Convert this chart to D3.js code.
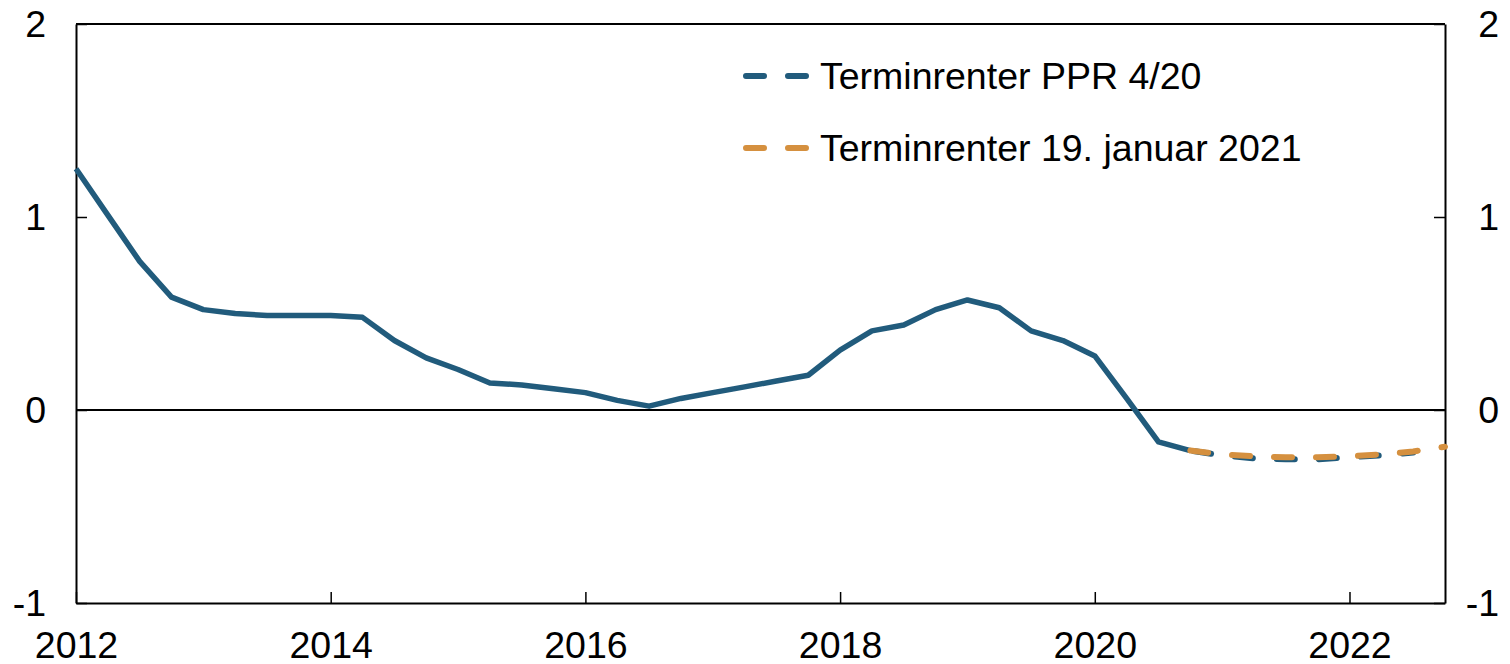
<!DOCTYPE html>
<html>
<head>
<meta charset="utf-8">
<script src="https://cdn.jsdelivr.net/npm/d3@7"></script>
<style>
  body { margin: 0; background: #fff; }
  svg text { font-family: "Liberation Sans", Arial, sans-serif; fill: #000; }
</style>
</head>
<body>
<div id="chart"></div>
<script>
// quarterly history (decimal year) and forward rates
const histQuarters = [2012.0, 2012.25, 2012.5, 2012.75, 2013.0, 2013.25, 2013.5, 2013.75,
  2014.0, 2014.25, 2014.5, 2014.75, 2015.0, 2015.25, 2015.5, 2015.75,
  2016.0, 2016.25, 2016.5, 2016.75, 2017.0, 2017.25, 2017.5, 2017.75,
  2018.0, 2018.25, 2018.5, 2018.75, 2019.0, 2019.25, 2019.5, 2019.75,
  2020.0, 2020.25, 2020.5, 2020.75];
const histValues = [1.25, 1.01, 0.77, 0.585, 0.52, 0.50, 0.49, 0.49,
  0.49, 0.48, 0.36, 0.27, 0.21, 0.14, 0.13, 0.11,
  0.09, 0.05, 0.02, 0.06, 0.09, 0.12, 0.15, 0.18,
  0.31, 0.41, 0.44, 0.52, 0.57, 0.53, 0.41, 0.36,
  0.28, 0.06, -0.165, -0.21];

const pprQuarters = [2020.75, 2021.0, 2021.25, 2021.5, 2021.75, 2022.0, 2022.25, 2022.5];
const pprValues = [-0.21, -0.235, -0.25, -0.255, -0.255, -0.245, -0.235, -0.22];

const janQuarters = [2020.75, 2021.0, 2021.25, 2021.5, 2021.75, 2022.0, 2022.25, 2022.5, 2022.75];
const janValues = [-0.21, -0.23, -0.24, -0.245, -0.245, -0.24, -0.23, -0.215, -0.19];

const yTicks = [-1, 0, 1, 2];
const xTicks = [2012, 2014, 2016, 2018, 2020, 2022];
const legendNames = ["Terminrenter PPR 4/20", "Terminrenter 19. januar 2021"];

const BLUE = "#215b7c";
const ORANGE = "#d5903f";

const WIDTH = 1510, HEIGHT = 664;
const MARGINS = { left: 76, right: 65, top: 24, bottom: 61 };
const FONT = 37.5;

const svg = d3.select("#chart").append("svg")
    .attr("width", WIDTH)
    .attr("height", HEIGHT);

const X_SCALE = d3.scaleLinear()
    .domain([2012, 2022.75])
    .range([MARGINS.left, WIDTH - MARGINS.right]);
const Y_SCALE = d3.scaleLinear()
    .domain([-1, 2])
    .range([HEIGHT - MARGINS.bottom, MARGINS.top]);

// top border
svg.append("line")
    .attr("x1", X_SCALE.range()[0]).attr("x2", X_SCALE.range()[1])
    .attr("y1", Y_SCALE(2)).attr("y2", Y_SCALE(2))
    .attr("stroke", "#000").attr("stroke-width", 2);

// zero line
svg.append("line")
    .attr("x1", X_SCALE.range()[0]).attr("x2", X_SCALE.range()[1])
    .attr("y1", Y_SCALE(0)).attr("y2", Y_SCALE(0))
    .attr("stroke", "#000").attr("stroke-width", 2);

// axes (plain hyphen for negatives, like the original)
const fmt = (d) => String(d);

const xAxis = svg.append("g")
    .attr("transform", "translate(0," + Y_SCALE(-1) + ")")
    .call(d3.axisBottom(X_SCALE).tickValues(xTicks).tickFormat(fmt)
        .tickSize(-11).tickSizeOuter(0));
xAxis.selectAll("text")
    .attr("y", 55).attr("dy", null)
    .attr("font-size", FONT);

const yLeft = svg.append("g")
    .attr("transform", "translate(" + X_SCALE(2012) + ",0)")
    .call(d3.axisLeft(Y_SCALE).tickValues(yTicks).tickFormat(fmt)
        .tickSize(-11).tickSizeOuter(0));
yLeft.selectAll("text")
    .attr("x", -30).attr("dy", "0.33em")
    .attr("font-size", FONT);

const yRight = svg.append("g")
    .attr("transform", "translate(" + X_SCALE(2022.75) + ",0)")
    .call(d3.axisRight(Y_SCALE).tickValues(yTicks).tickFormat(fmt)
        .tickSize(-11).tickSizeOuter(0));
yRight.selectAll("text")
    .attr("x", 54).attr("dy", "0.33em")
    .attr("text-anchor", "end")
    .attr("font-size", FONT);

svg.selectAll(".domain, .tick line")
    .attr("stroke", "#000").attr("stroke-width", 2);
svg.selectAll(".tick line").attr("stroke-width", 1.5);
svg.selectAll("g").attr("font-family", null);

// lines
const line = d3.line()
    .x((d) => X_SCALE(d[0]))
    .y((d) => Y_SCALE(d[1]));

svg.append("path")
    .datum(histQuarters.map((q, i) => [q, histValues[i]]))
    .attr("d", line)
    .attr("fill", "none")
    .attr("stroke", BLUE)
    .attr("stroke-width", 5.5)
    .attr("stroke-linejoin", "round");

svg.append("path")
    .datum(pprQuarters.map((q, i) => [q, pprValues[i]]))
    .attr("d", line)
    .attr("fill", "none")
    .attr("stroke", BLUE)
    .attr("stroke-width", 6)
    .attr("stroke-linecap", "round")
    .attr("stroke-dasharray", "18,24")
    .attr("stroke-dashoffset", -3);

svg.append("path")
    .datum(janQuarters.map((q, i) => [q, janValues[i]]))
    .attr("d", line)
    .attr("fill", "none")
    .attr("stroke", ORANGE)
    .attr("stroke-width", 6)
    .attr("stroke-linecap", "round")
    .attr("stroke-dasharray", "18,24");

// legend
const legendColors = [BLUE, ORANGE];
const legend = svg.selectAll(".legend")
    .data(legendNames)
    .enter()
    .append("g")
    .attr("class", "legend")
    .attr("transform", (d, i) => "translate(746," + (76 + i * 72) + ")");
legend.append("line")
    .attr("x1", 0).attr("x2", 60)
    .attr("stroke", (d, i) => legendColors[i])
    .attr("stroke-width", 6)
    .attr("stroke-linecap", "round")
    .attr("stroke-dasharray", "18,24");
legend.append("text")
    .attr("x", 74)
    .attr("dy", "0.35em")
    .attr("font-size", FONT)
    .text((d) => d);
</script>
</body>
</html>
